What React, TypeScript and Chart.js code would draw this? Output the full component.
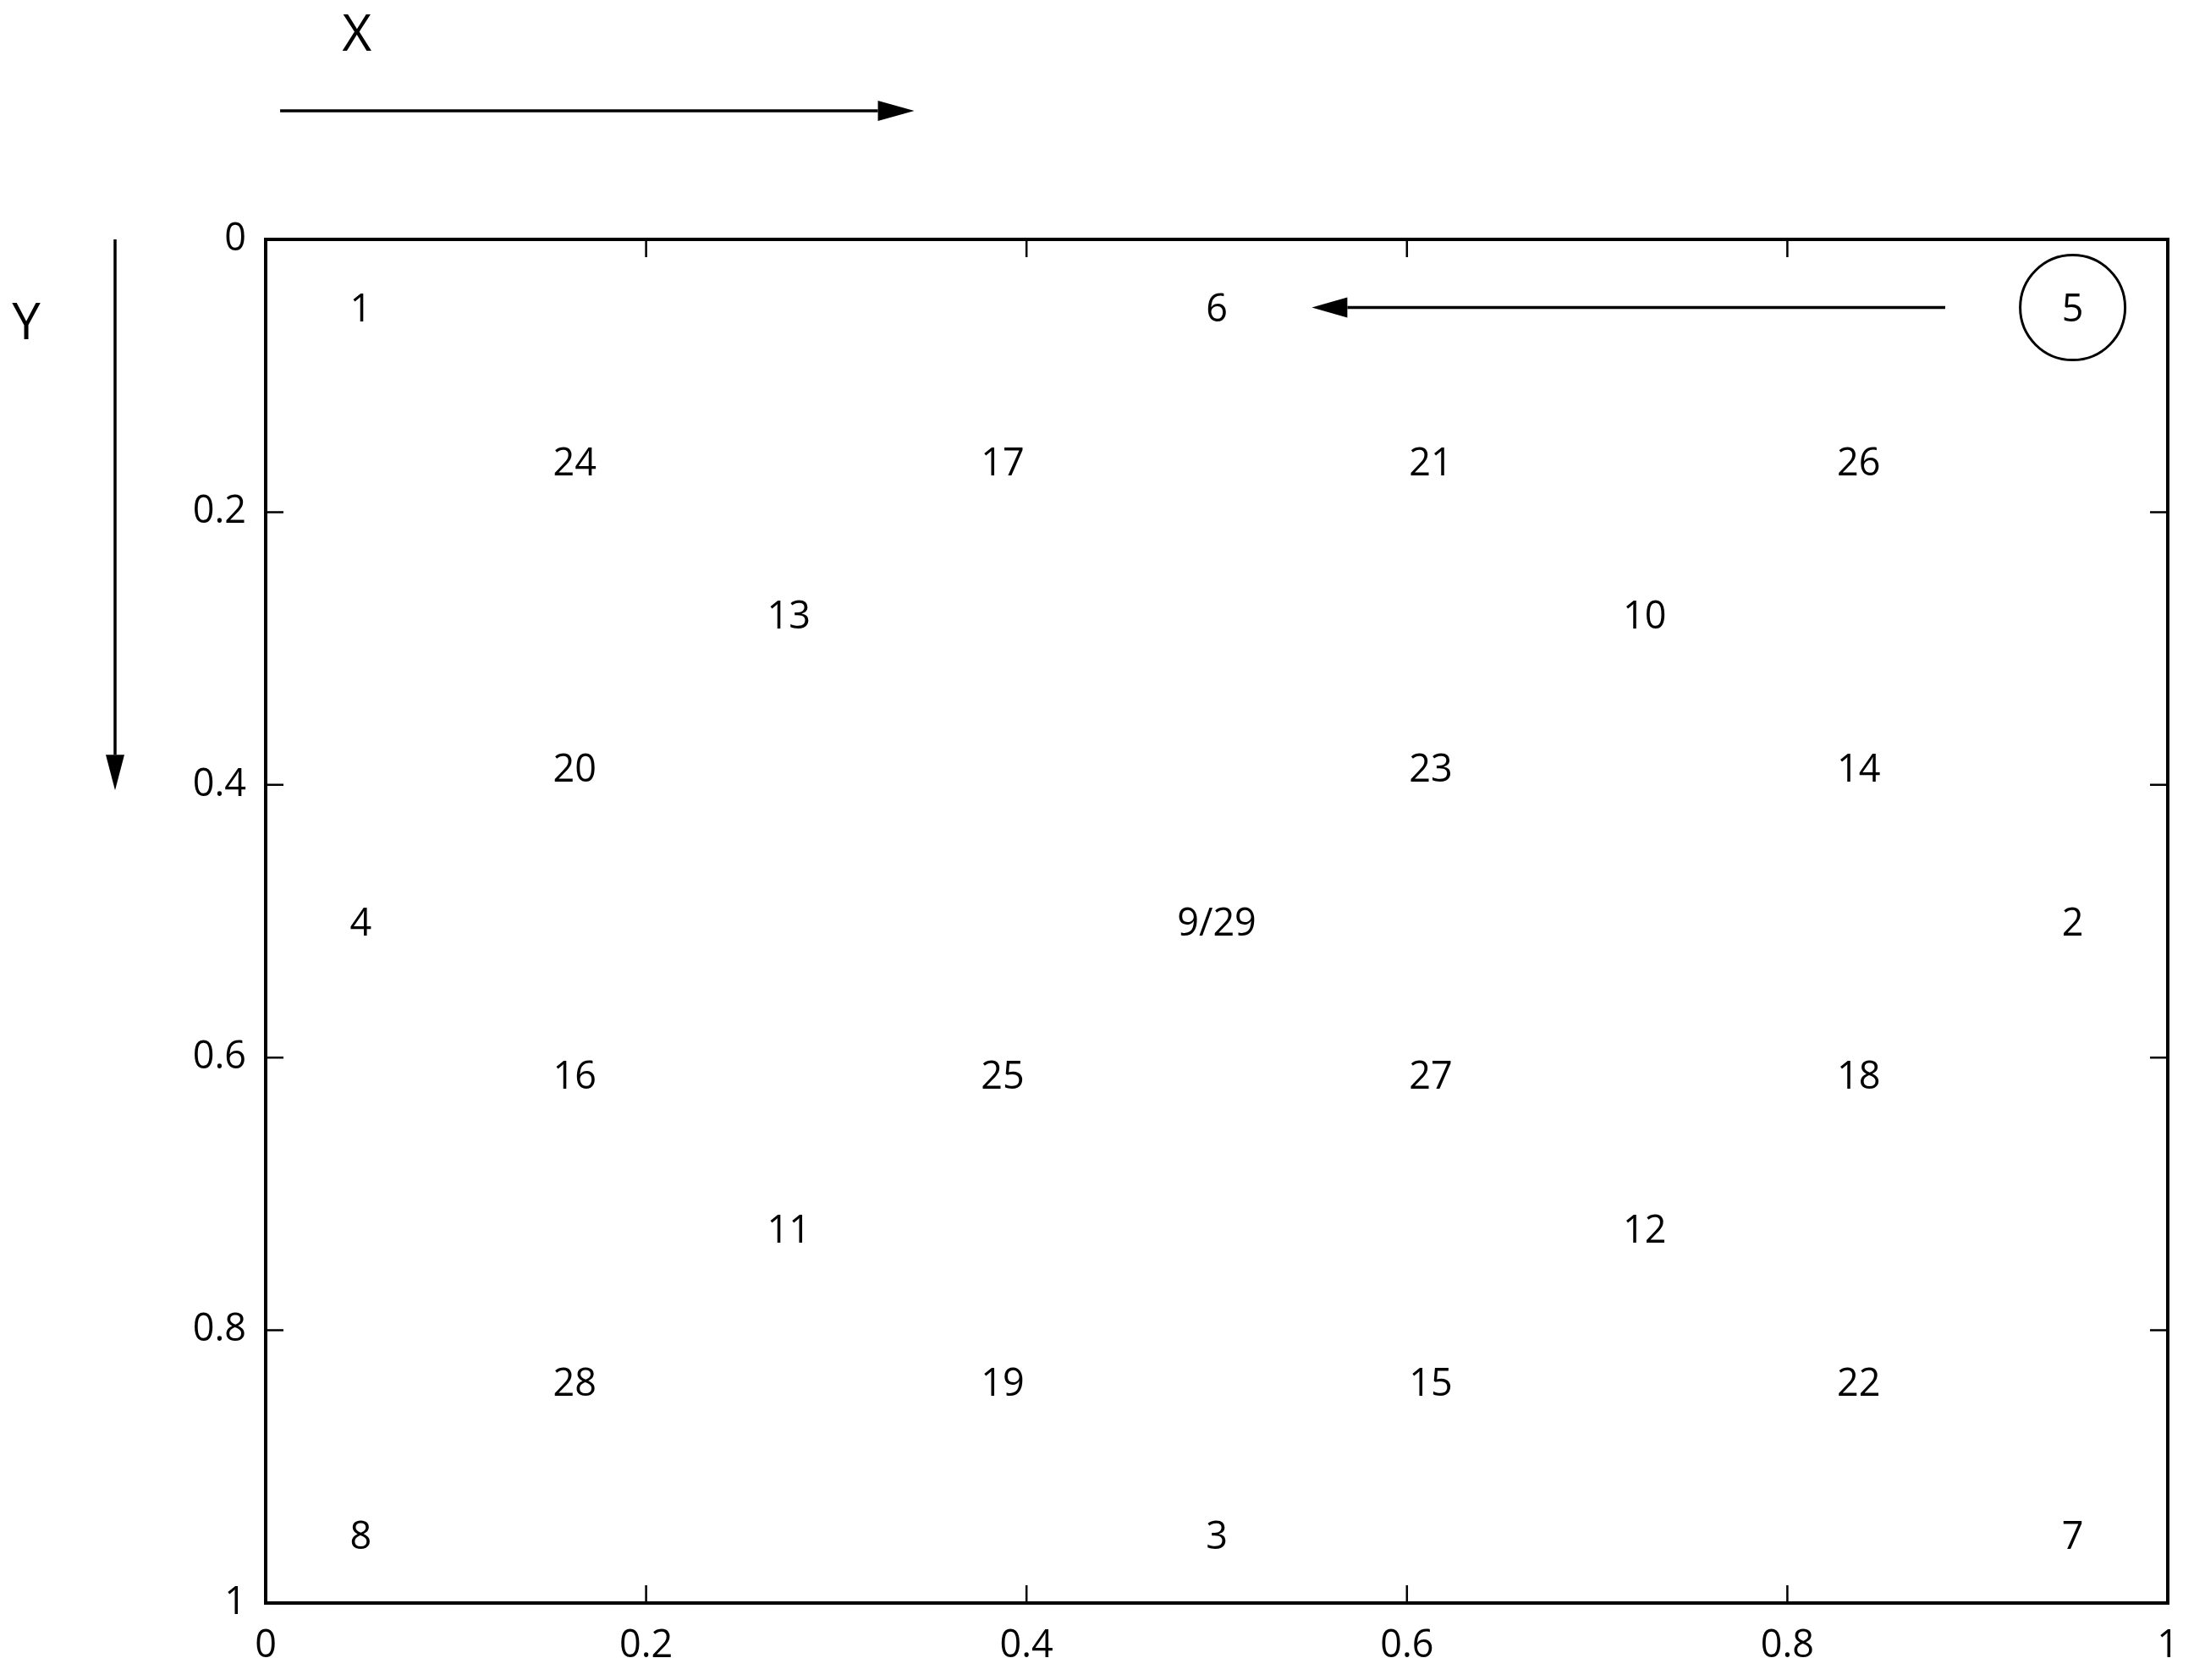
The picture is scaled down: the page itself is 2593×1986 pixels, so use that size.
import React, { useEffect, useRef } from "react";
import { Chart, registerables } from "chart.js";

Chart.register(...registerables);

// Point labels and their positions (data coordinates, y grows downward)
const pointLabels = ["1", "6", "5", "24", "17", "21", "26", "13", "10", "20", "23", "14", "4", "9/29", "2", "16", "25", "27", "18", "11", "12", "28", "19", "15", "22", "8", "3", "7"];
const pointX = [0.05, 0.5, 0.95, 0.1625, 0.3875, 0.6125, 0.8375, 0.275, 0.725, 0.1625, 0.6125, 0.8375, 0.05, 0.5, 0.95, 0.1625, 0.3875, 0.6125, 0.8375, 0.275, 0.725, 0.1625, 0.3875, 0.6125, 0.8375, 0.05, 0.5, 0.95];
const pointY = [0.05, 0.05, 0.05, 0.1625, 0.1625, 0.1625, 0.1625, 0.275, 0.275, 0.3875, 0.3875, 0.3875, 0.5, 0.5, 0.5, 0.6125, 0.6125, 0.6125, 0.6125, 0.725, 0.725, 0.8375, 0.8375, 0.8375, 0.8375, 0.95, 0.95, 0.95];

const xTickValues = [0, 0.2, 0.4, 0.6, 0.8, 1];
const yTickValues = [0, 0.2, 0.4, 0.6, 0.8, 1];

const circledLabel = "5";
const moveArrowFromX = 0.883;
const moveArrowToX = 0.55;
const moveArrowY = 0.05;

// Direction indicators outside the plot (in data units along their axis)
const xDirArrowFrom = 0.0076;
const xDirArrowTo = 0.341;
const xDirLabelX = 0.048;
const yDirArrowFrom = 0;
const yDirArrowTo = 0.404;
const yDirLabelY = 0.061;

const FONT = "'Open Sans', 'Noto Sans', sans-serif";

function arrow(ctx: CanvasRenderingContext2D, x1: number, y1: number, x2: number, y2: number, lw: number, headLen: number, headHalf: number) {
  const ang = Math.atan2(y2 - y1, x2 - x1);
  const bx = x2 - Math.cos(ang) * headLen;
  const by = y2 - Math.sin(ang) * headLen;
  ctx.save();
  ctx.strokeStyle = "#000";
  ctx.fillStyle = "#000";
  ctx.lineWidth = lw;
  ctx.beginPath();
  ctx.moveTo(x1, y1);
  ctx.lineTo(bx, by);
  ctx.stroke();
  ctx.beginPath();
  ctx.moveTo(x2, y2);
  ctx.lineTo(bx + Math.sin(ang) * headHalf, by - Math.cos(ang) * headHalf);
  ctx.lineTo(bx - Math.sin(ang) * headHalf, by + Math.cos(ang) * headHalf);
  ctx.closePath();
  ctx.fill();
  ctx.restore();
}

const decorPlugin = {
  id: "decor",
  afterDraw(chart: any) {
    const ctx: CanvasRenderingContext2D = chart.ctx;
    const { left, right, top, bottom } = chart.chartArea;
    const xs = chart.scales.x;
    const ys = chart.scales.y;
    const tick = 21;
    ctx.save();
    // ticks
    ctx.strokeStyle = "#000";
    ctx.lineWidth = 2.5;
    ctx.beginPath();
    xTickValues.forEach((v) => {
      const px = xs.getPixelForValue(v);
      ctx.moveTo(px, top);
      ctx.lineTo(px, top + tick);
      ctx.moveTo(px, bottom);
      ctx.lineTo(px, bottom - tick);
    });
    yTickValues.forEach((v) => {
      const py = ys.getPixelForValue(v);
      ctx.moveTo(left, py);
      ctx.lineTo(left + tick, py);
      ctx.moveTo(right, py);
      ctx.lineTo(right - tick, py);
    });
    ctx.stroke();
    // frame
    ctx.lineWidth = 4;
    ctx.strokeRect(left, top, right - left, bottom - top);

    // point labels
    const meta = chart.getDatasetMeta(0);
    ctx.fillStyle = "#000";
    ctx.font = `45px ${FONT}`;
    ctx.textAlign = "center";
    ctx.textBaseline = "middle";
    meta.data.forEach((el: any, i: number) => {
      ctx.fillText(pointLabels[i], el.x, el.y + 4);
      if (pointLabels[i] === circledLabel) {
        ctx.beginPath();
        ctx.lineWidth = 3;
        ctx.arc(el.x, el.y, 62, 0, Math.PI * 2);
        ctx.stroke();
      }
    });

    // move arrow 5 -> 6
    const my = ys.getPixelForValue(moveArrowY);
    arrow(ctx, xs.getPixelForValue(moveArrowFromX), my, xs.getPixelForValue(moveArrowToX), my, 3.5, 42, 12);

    // X direction
    const xArrowY = top - 152;
    arrow(ctx, xs.getPixelForValue(xDirArrowFrom), xArrowY, xs.getPixelForValue(xDirArrowTo), xArrowY, 3.5, 43, 12);
    ctx.font = `60px ${FONT}`;
    ctx.fillText("X", xs.getPixelForValue(xDirLabelX), top - 240);

    // Y direction
    const yArrowX = left - 178;
    arrow(ctx, yArrowX, ys.getPixelForValue(yDirArrowFrom), yArrowX, ys.getPixelForValue(yDirArrowTo), 3.5, 42, 11);
    ctx.fillText("Y", left - 283, ys.getPixelForValue(yDirLabelY) + 3);
    ctx.restore();
  },
};

export default function App() {
  const ref = useRef<HTMLCanvasElement | null>(null);
  useEffect(() => {
    if (!ref.current) return;
    const chart = new Chart(ref.current, {
      type: "scatter",
      data: {
        datasets: [
          {
            data: pointX.map((x, i) => ({ x, y: pointY[i] })),
            pointRadius: 0,
            pointHoverRadius: 0,
          },
        ],
      },
      options: {
        responsive: false,
        animation: false,
        devicePixelRatio: 1,
        layout: { padding: { top: 283, right: 31, left: 0, bottom: 0 } },
        plugins: { legend: { display: false }, tooltip: { enabled: false } },
        events: [],
        scales: {
          x: {
            type: "linear",
            position: "bottom",
            min: 0,
            max: 1,
            afterBuildTicks: (s: any) => {
              s.ticks = xTickValues.map((v) => ({ value: v }));
            },
            afterFit: (s: any) => {
              s.height = 91;
              s.paddingLeft = 0;
              s.paddingRight = 0;
            },
            grid: { display: false, drawTicks: false },
            border: { display: false },
            ticks: {
              padding: 24,
              color: "#000",
              font: { family: FONT, size: 45 },
              maxRotation: 0,
              callback: (v: any) => String(v),
            },
          },
          y: {
            type: "linear",
            position: "left",
            reverse: true,
            min: 0,
            max: 1,
            afterBuildTicks: (s: any) => {
              s.ticks = yTickValues.map((v) => ({ value: v }));
            },
            afterFit: (s: any) => {
              s.width = 314;
              s.paddingTop = 0;
              s.paddingBottom = 0;
            },
            grid: { display: false, drawTicks: false },
            border: { display: false },
            ticks: {
              padding: 23,
              color: "#000",
              font: { family: FONT, size: 45 },
              callback: (v: any) => String(v),
            },
          },
        },
      },
      plugins: [decorPlugin],
    });
    return () => chart.destroy();
  }, []);
  return (
    <div style={{ position: "absolute", left: 0, top: 0, width: 2593, height: 1986, background: "#fff" }}>
      <canvas ref={ref} width={2593} height={1986} style={{ display: "block" }} />
    </div>
  );
}
